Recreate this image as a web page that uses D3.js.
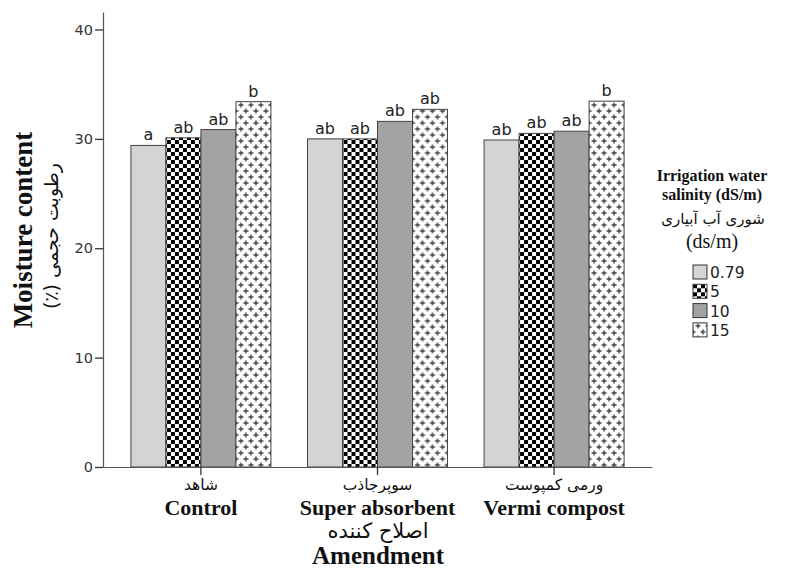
<!DOCTYPE html>
<html>
<head>
<meta charset="utf-8">
<script src="https://cdn.jsdelivr.net/npm/d3@7"></script>
<style>
  body { margin: 0; background: #fff; }
  .serif { font-family: "Liberation Serif", "DejaVu Serif", serif; font-weight: bold; }
  .fa { font-family: "DejaVu Sans", sans-serif; }
  .num { font-family: "DejaVu Sans", sans-serif; }
</style>
</head>
<body>
<svg id="chart" width="787" height="569"></svg>
<script>
const amendments = ['Control', 'Super absorbent', 'Vermi compost']
const amendmentsFa = ['شاهد', 'سوپرجاذب', 'ورمی کمپوست']
const salinity = ['0.79', '5', '10', '15']

// moisture content (%) per salinity level, one value per amendment
const moist079 = [29.4, 30.0, 29.9]
const moist5 = [30.1, 30.0, 30.5]
const moist10 = [30.85, 31.6, 30.7]
const moist15 = [33.4, 32.7, 33.45]

// significance letters per salinity level
const sig079 = ['a', 'ab', 'ab']
const sig5 = ['ab', 'ab', 'ab']
const sig10 = ['ab', 'ab', 'ab']
const sig15 = ['b', 'ab', 'b']

const yTicks = [0, 10, 20, 30, 40]

const rows = amendments.map((a, i) => ({
  amendment: a,
  values: [moist079[i], moist5[i], moist10[i], moist15[i]],
  letters: [sig079[i], sig5[i], sig10[i], sig15[i]],
}))

const svg = d3.select('#chart')
const axisColor = '#555'

// patterns
const defs = svg.append('defs')
const checker = defs.append('pattern')
  .attr('id', 'checker').attr('patternUnits', 'userSpaceOnUse')
  .attr('width', 8).attr('height', 8)
checker.append('rect').attr('width', 8).attr('height', 8).attr('fill', '#fff')
checker.append('rect').attr('width', 4).attr('height', 4).attr('fill', '#000')
checker.append('rect').attr('x', 4).attr('y', 4).attr('width', 4).attr('height', 4).attr('fill', '#000')

const plus = defs.append('pattern')
  .attr('id', 'plus').attr('patternUnits', 'userSpaceOnUse')
  .attr('width', 10).attr('height', 12)
plus.append('rect').attr('width', 10).attr('height', 12).attr('fill', '#fff')
const plusPath = 'M5,0.5V5.5M2.5,3H7.5M0,6.5V11.5M-2.5,9H2.5M10,6.5V11.5M7.5,9H12.5'
plus.append('path').attr('d', plusPath).attr('stroke', '#444').attr('stroke-width', 1.4).attr('fill', 'none')

const fills = ['#d4d4d4', 'url(#checker)', '#a3a3a3', 'url(#plus)']

// scales
const x0 = d3.scaleBand().domain(amendments).range([103, 652]).paddingInner(0.207).paddingOuter(0.158)
const x1 = d3.scaleBand().domain(salinity).range([0, x0.bandwidth()])
const y = d3.scaleLinear().domain([0, 41.6]).range([467, 12])

// bars
const groups = svg.append('g').selectAll('g').data(rows).join('g')
  .attr('transform', d => `translate(${x0(d.amendment)},0)`)

groups.selectAll('rect')
  .data(d => d.values.map((v, i) => ({ s: salinity[i], v, i })))
  .join('rect')
  .attr('x', d => x1(d.s))
  .attr('y', d => y(d.v))
  .attr('width', x1.bandwidth())
  .attr('height', d => y(0) - y(d.v))
  .attr('fill', d => fills[d.i])
  .attr('stroke', '#444')
  .attr('stroke-width', 1)

groups.selectAll('text')
  .data(d => d.letters.map((l, i) => ({ s: salinity[i], l, v: d.values[i] })))
  .join('text')
  .attr('class', 'num')
  .attr('x', d => x1(d.s) + x1.bandwidth() / 2)
  .attr('y', d => y(d.v) - 5)
  .attr('text-anchor', 'middle')
  .attr('font-size', 16)
  .attr('fill', '#222')
  .text(d => d.l)

// y axis
const yAxis = svg.append('g')
  .attr('transform', 'translate(103,0)')
  .call(d3.axisLeft(y).tickValues(yTicks).tickSize(8).tickSizeOuter(0).tickPadding(2))
yAxis.select('.domain').attr('stroke', axisColor).attr('stroke-width', 1.2)
yAxis.selectAll('.tick line').attr('stroke', '#333').attr('stroke-width', 1.3)
yAxis.selectAll('.tick text').attr('class', 'num').attr('font-size', 14.5).attr('fill', '#333')

// x axis
const xAxis = svg.append('g')
  .attr('transform', 'translate(0,467)')
  .call(d3.axisBottom(x0).tickSize(8).tickSizeOuter(0).tickFormat(''))
xAxis.select('.domain').attr('stroke', axisColor).attr('stroke-width', 1.2)
xAxis.selectAll('.tick line').attr('stroke', '#333').attr('stroke-width', 1.3)

amendments.forEach((a, i) => {
  const cx = x0(a) + x0.bandwidth() / 2
  svg.append('text').attr('class', 'fa').attr('x', cx).attr('y', 490)
    .attr('text-anchor', 'middle').attr('font-size', 15.5).attr('fill', '#111')
    .text(amendmentsFa[i])
  svg.append('text').attr('class', 'serif').attr('x', cx).attr('y', 515)
    .attr('text-anchor', 'middle').attr('font-size', 22).attr('fill', '#111')
    .text(a)
})

// axis titles
svg.append('text').attr('class', 'fa').attr('x', 378).attr('y', 538)
  .attr('text-anchor', 'middle').attr('font-size', 21).attr('fill', '#111')
  .text('اصلاح کننده')
svg.append('text').attr('class', 'serif').attr('x', 378).attr('y', 564)
  .attr('text-anchor', 'middle').attr('font-size', 25).attr('fill', '#111')
  .text('Amendment')

svg.append('text').attr('class', 'serif')
  .attr('transform', 'translate(32,230) rotate(-90)')
  .attr('text-anchor', 'middle').attr('font-size', 27).attr('fill', '#111')
  .text('Moisture content')
svg.append('text').attr('class', 'fa')
  .attr('transform', 'translate(58,236) rotate(-90)')
  .attr('text-anchor', 'middle').attr('direction', 'rtl').attr('font-size', 19).attr('fill', '#111')
  .text('رطوبت حجمی (٪)')

// legend
const lg = svg.append('g')
lg.append('text').attr('class', 'serif').attr('x', 712).attr('y', 181)
  .attr('text-anchor', 'middle').attr('font-size', 16).attr('fill', '#111')
  .text('Irrigation water')
lg.append('text').attr('class', 'serif').attr('x', 712).attr('y', 200)
  .attr('text-anchor', 'middle').attr('font-size', 16).attr('fill', '#111')
  .text('salinity (dS/m)')
lg.append('text').attr('class', 'fa').attr('x', 713).attr('y', 224)
  .attr('text-anchor', 'middle').attr('font-size', 15).attr('fill', '#111')
  .text('شوری آب آبیاری')
lg.append('text').attr('x', 712).attr('y', 248)
  .attr('text-anchor', 'middle').attr('font-size', 20)
  .style('font-family', '"Liberation Serif", serif').attr('fill', '#111')
  .text('(ds/m)')

const item = lg.selectAll('g.item').data(salinity).join('g')
  .attr('class', 'item')
  .attr('transform', (d, i) => `translate(693,${265 + i * 19.3})`)
item.append('rect').attr('width', 14).attr('height', 14)
  .attr('fill', (d, i) => fills[i]).attr('stroke', '#333').attr('stroke-width', 1)
item.append('text').attr('class', 'num').attr('x', 17).attr('y', 13)
  .attr('font-size', 15.5).attr('fill', '#222')
  .text(d => d)
</script>
</body>
</html>
